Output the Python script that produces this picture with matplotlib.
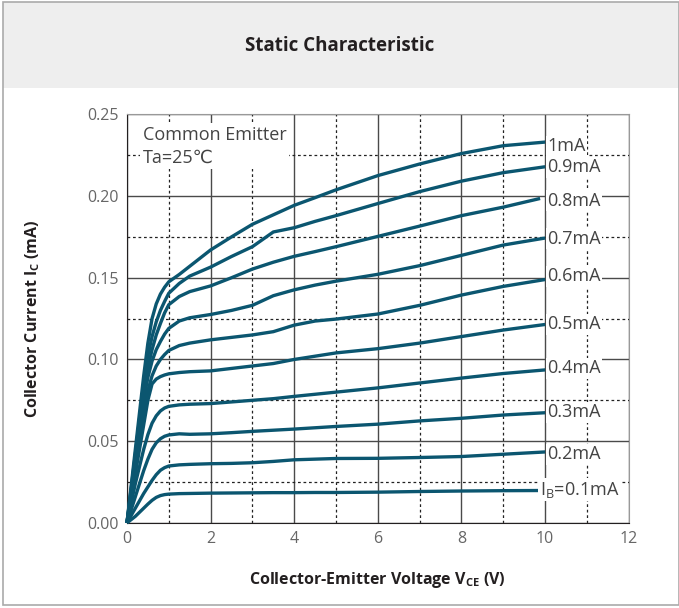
import numpy as np
import matplotlib.pyplot as plt
from matplotlib.patches import Rectangle

# collector-emitter voltage (V) sample points
vce = [0, 0.2, 0.4, 0.5, 0.6, 0.7, 0.8, 0.9, 1, 1.25, 1.5, 2, 2.5, 3, 3.5, 4, 4.5, 5, 6, 7, 8, 9, 10]

# collector current (mA) for each base current
ic_1_0 = [0, 0.045, 0.090, 0.110, 0.125, 0.134, 0.140, 0.1442, 0.1475, 0.152, 0.157, 0.167, 0.175, 0.1827, 0.1885, 0.1943, 0.199, 0.2038, 0.2125, 0.2196, 0.226, 0.2308, 0.233]
ic_0_9 = [0, 0.042, 0.085, 0.102, 0.114, 0.123, 0.130, 0.1355, 0.1405, 0.1465, 0.151, 0.1565, 0.163, 0.169, 0.178, 0.1806, 0.1845, 0.188, 0.1954, 0.2027, 0.2091, 0.2143, 0.2179]
ic_0_8 = [0, 0.040, 0.080, 0.095, 0.106, 0.115, 0.122, 0.1285, 0.1335, 0.1385, 0.1415, 0.145, 0.150, 0.1553, 0.1595, 0.1631, 0.166, 0.169, 0.1753, 0.1816, 0.188, 0.1932, 0.1985]
ic_0_7 = [0, 0.037, 0.075, 0.089, 0.099, 0.106, 0.111, 0.1155, 0.119, 0.1235, 0.1255, 0.1275, 0.130, 0.1331, 0.139, 0.1426, 0.1455, 0.1479, 0.1521, 0.1574, 0.1637, 0.170, 0.1743]
ic_0_6 = [0, 0.033, 0.068, 0.081, 0.090, 0.096, 0.100, 0.103, 0.1055, 0.1085, 0.110, 0.112, 0.1135, 0.115, 0.117, 0.121, 0.1235, 0.1247, 0.1278, 0.1331, 0.1394, 0.1447, 0.1489]
ic_0_5 = [0, 0.030, 0.060, 0.075, 0.085, 0.088, 0.0895, 0.0905, 0.0912, 0.092, 0.0925, 0.093, 0.0945, 0.096, 0.0975, 0.100, 0.102, 0.104, 0.1066, 0.110, 0.114, 0.118, 0.1214]
ic_0_4 = [0, 0.024, 0.045, 0.054, 0.061, 0.0655, 0.0685, 0.0703, 0.0713, 0.0722, 0.0726, 0.073, 0.074, 0.075, 0.076, 0.0774, 0.0787, 0.080, 0.0826, 0.0856, 0.0886, 0.0914, 0.0936]
ic_0_3 = [0, 0.016, 0.032, 0.039, 0.045, 0.049, 0.0515, 0.053, 0.0538, 0.0545, 0.0542, 0.0545, 0.0552, 0.056, 0.0567, 0.0574, 0.0582, 0.059, 0.0604, 0.0624, 0.064, 0.066, 0.0674]
ic_0_2 = [0, 0.009, 0.018, 0.022, 0.026, 0.0295, 0.0322, 0.0338, 0.0348, 0.0355, 0.0358, 0.0362, 0.0364, 0.0368, 0.0376, 0.0386, 0.039, 0.0394, 0.0395, 0.040, 0.0406, 0.042, 0.0434]
ic_0_1 = [0, 0.004, 0.009, 0.0115, 0.0138, 0.0156, 0.0167, 0.0173, 0.0176, 0.0179, 0.018, 0.0182, 0.0183, 0.0184, 0.0185, 0.0185, 0.0186, 0.0186, 0.0188, 0.0192, 0.0195, 0.0197, 0.0198]

curves = [ic_1_0, ic_0_9, ic_0_8, ic_0_7, ic_0_6, ic_0_5, ic_0_4, ic_0_3, ic_0_2, ic_0_1]
v_end = [10, 10, 9.88, 10, 10, 10, 10, 10, 10, 9.84]
labels = ['1mA', '0.9mA', '0.8mA', '0.7mA', '0.6mA', '0.5mA', '0.4mA', '0.3mA', '0.2mA',
          r'I$_\mathregular{B}$=0.1mA']
label_y = [0.2305, 0.2176, 0.197, 0.174, 0.151, 0.1216, 0.0947, 0.0678, 0.042, 0.0202]
label_x = [10.05, 10.05, 10.05, 10.05, 10.05, 10.05, 10.05, 10.05, 10.05, 9.87]

line_color = '#0b5670'
plt.rcParams['font.family'] = ['Open Sans', 'DejaVu Sans']

fig = plt.figure(figsize=(6.79, 6.08), dpi=100)
fig.patches.append(Rectangle((0.0044, 0.855), 0.995, 0.142, transform=fig.transFigure,
                             facecolor='#eeeeee', edgecolor='none', zorder=0))
fig.patches.append(Rectangle((0.0044, 0.005), 0.995, 0.992, transform=fig.transFigure,
                             facecolor='none', edgecolor='#aaaaaa', lw=1.2, zorder=5))
fig.text(0.5, 0.925, 'Static Characteristic', ha='center', va='center',
         fontsize=13.5, fontweight='bold', color='#231f20')

ax = fig.add_axes([0.187, 0.14, 0.739, 0.672])
ax.set_xlim(0, 12)
ax.set_ylim(0, 0.25)
ax.set_xticks(np.arange(0, 13, 2))
ax.set_yticks(np.arange(0, 0.26, 0.05))
ax.set_yticklabels(['%.2f' % t for t in np.arange(0, 0.26, 0.05)])
ax.set_xticks(np.arange(1, 12, 2), minor=True)
ax.set_yticks(np.arange(0.025, 0.25, 0.05), minor=True)
ax.grid(which='major', color='#4a4a4a', lw=1.0)
ax.grid(which='minor', color='#222222', lw=0.9, ls=(0, (2.2, 2.2)))
ax.set_axisbelow(True)
ax.tick_params(which='both', length=0)
ax.tick_params(labelsize=11.5, labelcolor='#666666', pad=6)
ax.spines['left'].set_color('#231f20')
ax.spines['bottom'].set_color('#231f20')
ax.spines['top'].set_color('#999999')
ax.spines['right'].set_color('#999999')

for ic, ve in zip(curves, v_end):
    v = np.array(vce, dtype=float)
    v[-1] = ve
    ax.plot(v, ic, color=line_color, lw=2.4, solid_capstyle='butt', solid_joinstyle='round',
            zorder=3, clip_on=False)

for lab, lx, ly in zip(labels, label_x, label_y):
    ax.text(lx, ly, lab, ha='left', va='center', fontsize=13, color='#444444', zorder=4,
            bbox=dict(facecolor='white', edgecolor='none', pad=1.0))

ax.text(0.38, 0.2305, 'Common Emitter\nTa=25\u2103', ha='left', va='center', fontsize=13,
        color='#444444', linespacing=1.35, zorder=4,
        bbox=dict(facecolor='white', edgecolor='none', pad=2.0))

ax.set_xlabel(r'Collector-Emitter Voltage V$_\mathregular{CE}$ (V)', fontsize=11.5,
              fontweight='bold', color='#231f20')
ax.set_ylabel(r'Collector Current I$_\mathregular{C}$ (mA)', fontsize=11.5,
              fontweight='bold', color='#231f20')
ax.xaxis.set_label_coords(0.5, -0.115)
ax.yaxis.set_label_coords(-0.17, 0.5)

fig.savefig('out.png', dpi=100)
